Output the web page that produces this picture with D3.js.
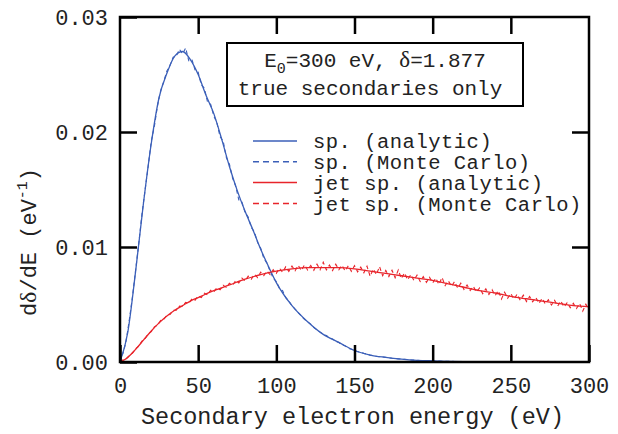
<!DOCTYPE html>
<html>
<head>
<meta charset="utf-8">
<script src="https://cdn.jsdelivr.net/npm/d3@7"></script>
<style>
  body { margin: 0; background: #fff; }
  text { font-family: "Liberation Mono", "Courier New", monospace; fill: #222; }
</style>
</head>
<body>
<div id="chart"></div>
<script>
// ---- data ----
const xTicks = [0, 50, 100, 150, 200, 250, 300];
const yTicks = [0, 0.01, 0.02, 0.03];

// analytic spectra (smooth)
const spEnergy = [0, 5, 10, 15, 20, 25, 30, 35, 40, 45, 50, 55, 60, 65, 70, 75, 80, 85, 90, 95, 100,
  110, 120, 130, 140, 150, 160, 170, 180, 190, 200, 220, 250, 300];
const spAnalytic = [0, 0.0026, 0.0079, 0.0138, 0.0190, 0.0230, 0.0251, 0.0266, 0.0270, 0.0263, 0.0250,
  0.0232, 0.0216, 0.0194, 0.0170, 0.0149, 0.0131, 0.0115, 0.0098, 0.0083, 0.0069,
  0.0049, 0.0035, 0.0024, 0.0017, 0.0010, 0.0006, 0.0004, 0.00025, 0.00015, 0.0001, 0.00004, 0.00001, 0];

const jetEnergy = [0, 5, 10, 15, 20, 25, 30, 35, 40, 45, 50, 60, 70, 80, 90, 100, 110, 120, 130, 140,
  150, 160, 170, 180, 190, 200, 210, 220, 230, 240, 250, 260, 270, 280, 290, 300];
const jetAnalytic = [0, 0.0004, 0.0011, 0.0019, 0.0027, 0.0034, 0.0040, 0.0045, 0.0049, 0.0053, 0.0056,
  0.0062, 0.0067, 0.0072, 0.0076, 0.0079, 0.0081, 0.0082, 0.0082, 0.0082,
  0.0081, 0.0079, 0.0077, 0.0075, 0.0073, 0.0071, 0.0068, 0.0065, 0.0062, 0.0060,
  0.0057, 0.0055, 0.0053, 0.0051, 0.0049, 0.0048];

// Monte Carlo spectra (noisy, 2 eV bins)
const mcEnergy = [0, 2, 4, 6, 8, 10, 12, 14, 16, 18, 20, 22, 24, 26, 28, 30, 32, 34, 36, 38,
  40, 42, 44, 46, 48, 50, 52, 54, 56, 58, 60, 62, 64, 66, 68, 70, 72, 74, 76, 78,
  80, 82, 84, 86, 88, 90, 92, 94, 96, 98, 100, 102, 104, 106, 108, 110, 112, 114, 116, 118,
  120, 122, 124, 126, 128, 130, 132, 134, 136, 138, 140, 142, 144, 146, 148, 150, 152, 154, 156, 158,
  160, 162, 164, 166, 168, 170, 172, 174, 176, 178, 180, 182, 184, 186, 188, 190, 192, 194, 196, 198,
  200, 202, 204, 206, 208, 210, 212, 214, 216, 218, 220, 222, 224, 226, 228, 230, 232, 234, 236, 238,
  240, 242, 244, 246, 248, 250, 252, 254, 256, 258, 260, 262, 264, 266, 268, 270, 272, 274, 276, 278,
  280, 282, 284, 286, 288, 290, 292, 294, 296, 298, 300];
const spMonteCarlo = [0, 0.0008, 0.0019, 0.0037, 0.0057, 0.0080, 0.0103, 0.0128, 0.0149, 0.0170,
  0.0192, 0.0205, 0.0223, 0.0236, 0.0244, 0.0253, 0.0258, 0.0265, 0.0266, 0.0272,
  0.0268, 0.0273, 0.0262, 0.0263, 0.0254, 0.0252, 0.0241, 0.0238, 0.0226, 0.0224,
  0.0214, 0.0208, 0.0196, 0.0192, 0.0178, 0.0172, 0.0160, 0.0153, 0.0141, 0.0139,
  0.0130, 0.0126, 0.0117, 0.0113, 0.0104, 0.0099, 0.0090, 0.0086, 0.0079, 0.0073,
  0.0070, 0.0064, 0.0062, 0.0056, 0.0053, 0.0049, 0.0046, 0.0043, 0.0040, 0.0037,
  0.0035, 0.0033, 0.0030, 0.0028, 0.0026, 0.0024, 0.0023, 0.0021, 0.0020, 0.0018,
  0.0017, 0.0015, 0.0014, 0.0012, 0.0011, 0.0010, 0.0009, 0.00085, 0.00075, 0.00068,
  0.0006, 0.00056, 0.0005, 0.00046, 0.00043, 0.0004, 0.00036, 0.00032, 0.00029, 0.00027,
  0.00025, 0.00023, 0.00021, 0.00018, 0.00016, 0.00015, 0.00013, 0.00012, 0.00011, 0.0001,
  0.0001, 0.00009, 0.00008, 0.00007, 0.00007, 0.00006, 0.00006, 0.00005, 0.00005, 0.00004,
  0.00004, 0.00004, 0.00003, 0.00003, 0.00003, 0.00002, 0.00002, 0.00002, 0.00002, 0.00002,
  0.00001, 0.00001, 0.00001, 0.00001, 0.00001, 0.00001, 0.00001, 0.00001, 0.00001, 0.00001,
  0, 0, 0, 0, 0, 0, 0, 0, 0, 0,
  0, 0, 0, 0, 0, 0, 0, 0, 0, 0, 0];
const jetMonteCarlo = [0, 0.00019, 0.00029, 0.00059, 0.00078, 0.00116, 0.00137, 0.00181, 0.00201, 0.00245,
  0.00264, 0.00306, 0.00320, 0.00361, 0.00370, 0.00409, 0.00413, 0.00450, 0.00451, 0.00486,
  0.00482, 0.00519, 0.00510, 0.00549, 0.00537, 0.00574, 0.00561, 0.00599, 0.00583, 0.00625,
  0.00609, 0.00646, 0.00628, 0.00667, 0.00649, 0.00685, 0.00666, 0.00708, 0.00687, 0.00729,
  0.00705, 0.00746, 0.00721, 0.00763, 0.00734, 0.00781, 0.00752, 0.00790, 0.00760, 0.00803,
  0.00771, 0.00816, 0.00780, 0.00827, 0.00788, 0.00834, 0.00793, 0.00840, 0.00796, 0.00845,
  0.00800, 0.00839, 0.00797, 0.00851, 0.00802, 0.00868, 0.00801, 0.00843, 0.00795, 0.00850,
  0.00803, 0.00841, 0.00792, 0.00836, 0.00789, 0.00838, 0.00784, 0.00825, 0.00776, 0.00833,
  0.00745, 0.00809, 0.00761, 0.00830, 0.00750, 0.00796, 0.00743, 0.00798, 0.00732, 0.00800,
  0.00726, 0.00774, 0.00715, 0.00759, 0.00710, 0.00756, 0.00701, 0.00742, 0.00693, 0.00736,
  0.00688, 0.00729, 0.00674, 0.00735, 0.00665, 0.00706, 0.00658, 0.00699, 0.00643, 0.00685,
  0.00631, 0.00670, 0.00622, 0.00658, 0.00609, 0.00644, 0.00595, 0.00636, 0.00587, 0.00629,
  0.00578, 0.00620, 0.00548, 0.00607, 0.00555, 0.00596, 0.00547, 0.00589, 0.00538, 0.00581,
  0.00526, 0.00570, 0.00523, 0.00561, 0.00510, 0.00554, 0.00506, 0.00542, 0.00495, 0.00536,
  0.00487, 0.00531, 0.00479, 0.00516, 0.00472, 0.00510, 0.00465, 0.00509, 0.00442, 0.00502, 0.00455];

const legendLabels = ["sp. (analytic)", "sp. (Monte Carlo)", "jet sp. (analytic)", "jet sp. (Monte Carlo)"];
const blue = "#3b5fb8";
const red = "#e8242b";

// ---- layout ----
const width = 618, height = 434;
const margin = { top: 17, right: 29, bottom: 72, left: 120 };
const plotW = width - margin.left - margin.right;
const plotH = height - margin.top - margin.bottom;

const svg = d3.select("#chart").append("svg")
  .attr("width", width)
  .attr("height", height);

const g = svg.append("g")
  .attr("transform", `translate(${margin.left},${margin.top})`);

const x = d3.scaleLinear().domain([0, 300]).range([0, plotW]);
const y = d3.scaleLinear().domain([0, 0.03]).range([plotH, 0]);

g.append("clipPath").attr("id", "clip")
  .append("rect").attr("width", plotW).attr("height", plotH);

// ---- curves ----
const zip = (xs, ys) => xs.map((e, i) => [e, ys[i]]);
const smooth = d3.line().x(d => x(d[0])).y(d => y(d[1])).curve(d3.curveMonotoneX);
const jagged = d3.line().x(d => x(d[0])).y(d => y(d[1]));

const series = [
  { data: zip(spEnergy, spAnalytic), color: blue, dash: null, line: smooth, w: 1.3 },
  { data: zip(jetEnergy, jetAnalytic), color: red, dash: null, line: smooth, w: 1.3 },
  { data: zip(mcEnergy, spMonteCarlo), color: blue, dash: "4,3", line: jagged, w: 1.1 },
  { data: zip(mcEnergy, jetMonteCarlo), color: red, dash: "4,3", line: jagged, w: 1.1 }
];

const plot = g.append("g").attr("clip-path", "url(#clip)");
series.forEach(s => {
  plot.append("path")
    .attr("d", s.line(s.data))
    .attr("fill", "none")
    .attr("stroke", s.color)
    .attr("stroke-width", s.w)
    .attr("stroke-dasharray", s.dash);
});

// ---- axes (ticks point inward) ----
const tickLen = 17;
const styleAxis = sel => {
  sel.select(".domain").remove();
  sel.selectAll(".tick line").attr("stroke", "#000").attr("stroke-width", 2.5);
  sel.selectAll(".tick text")
    .style("font-family", "'Liberation Mono', monospace")
    .style("font-size", "22px")
    .attr("fill", "#222");
};

g.append("g")
  .attr("transform", `translate(0,${plotH})`)
  .call(d3.axisBottom(x).tickValues(xTicks).tickSize(-tickLen).tickPadding(15).tickFormat(d3.format("d")))
  .call(styleAxis);

g.append("g")
  .call(d3.axisTop(x).tickValues(xTicks.slice(1, -1)).tickSize(-tickLen).tickFormat(""))
  .call(styleAxis);

g.append("g")
  .call(d3.axisLeft(y).tickValues(yTicks).tickSize(-tickLen).tickPadding(12).tickFormat(d3.format(".2f")))
  .call(styleAxis);

g.append("g")
  .attr("transform", `translate(${plotW},0)`)
  .call(d3.axisRight(y).tickValues(yTicks.slice(1, -1)).tickSize(-tickLen).tickFormat(""))
  .call(styleAxis);

// frame
g.append("rect")
  .attr("width", plotW).attr("height", plotH)
  .attr("fill", "none").attr("stroke", "#000").attr("stroke-width", 2.5);

// ---- axis titles ----
svg.append("text")
  .attr("x", margin.left + plotW / 2 - 2)
  .attr("y", 424)
  .attr("text-anchor", "middle")
  .style("font-size", "23.5px")
  .text("Secondary electron energy (eV)");

const yTitle = svg.append("text")
  .attr("transform", "translate(36,242) rotate(-90)")
  .attr("text-anchor", "middle")
  .style("font-size", "22px");
yTitle.append("tspan").text("d");
yTitle.append("tspan").style("font-family", "'Liberation Serif', serif").style("font-size", "24px").text("δ");
yTitle.append("tspan").text("/dE (eV");
yTitle.append("tspan").attr("dy", -9).style("font-size", "15px").text("-1");
yTitle.append("tspan").attr("dy", 9).text(")");

// ---- annotation box ----
const box = svg.append("g");
box.append("rect")
  .attr("x", 227).attr("y", 43).attr("width", 296).attr("height", 63)
  .attr("fill", "#fff").attr("stroke", "#000").attr("stroke-width", 2);
const line1 = box.append("text")
  .attr("x", 375).attr("y", 67)
  .attr("text-anchor", "middle")
  .style("font-size", "21px");
line1.append("tspan").text("E");
line1.append("tspan").attr("dy", 6).style("font-size", "15px").text("0");
line1.append("tspan").attr("dy", -6).text("=300 eV, ");
line1.append("tspan").style("font-family", "'Liberation Serif', serif").style("font-size", "23px").text("δ");
line1.append("tspan").text("=1.877");
box.append("text")
  .attr("x", 370).attr("y", 95)
  .attr("text-anchor", "middle")
  .style("font-size", "21px")
  .text("true secondaries only");

// ---- legend ----
const legendStyles = [
  { color: blue, dash: null }, { color: blue, dash: "6,4" },
  { color: red, dash: null }, { color: red, dash: "6,4" }
];
const legend = svg.append("g").attr("transform", "translate(253,141)");
legendLabels.forEach((label, i) => {
  const row = legend.append("g").attr("transform", `translate(0,${i * 20.8})`);
  row.append("line")
    .attr("x1", 0).attr("x2", 44)
    .attr("stroke", legendStyles[i].color)
    .attr("stroke-width", 1.5)
    .attr("stroke-dasharray", legendStyles[i].dash);
  row.append("text")
    .attr("x", 60).attr("dy", "0.35em")
    .style("font-size", "20.5px")
    .style("letter-spacing", "0.5px")
    .text(label);
});
</script>
</body>
</html>
